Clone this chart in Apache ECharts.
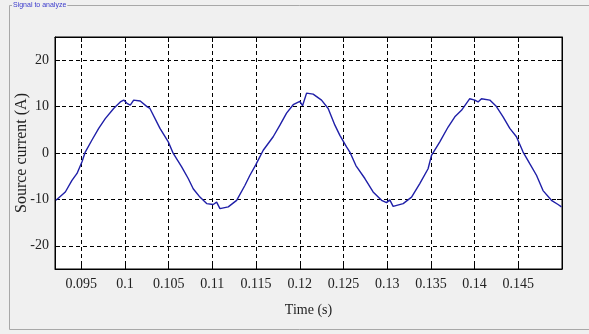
<!DOCTYPE html>
<html>
<head>
<meta charset="utf-8">
<script src="https://cdn.jsdelivr.net/npm/echarts@6/dist/echarts.min.js"></script>
<style>
html,body{margin:0;padding:0;background:#f0f0f0;}
#c{width:589px;height:334px;}
</style>
</head>
<body>
<div id="c"></div>
<script>
var timeS = [0.09211,0.09318,0.09394,0.09452,0.09509,0.09546,0.09623,0.09700,0.09775,0.09871,0.09947,0.09986,0.10023,0.10061,0.10100,0.10175,0.10252,0.10286,0.10401,0.10496,0.10553,0.10649,0.10724,0.10781,0.10858,0.10935,0.11010,0.11049,0.11087,0.11182,0.11278,0.11372,0.11430,0.11495,0.11582,0.11696,0.11773,0.11849,0.11925,0.12001,0.12032,0.12078,0.12153,0.12249,0.12325,0.12402,0.12459,0.12535,0.12573,0.12642,0.12745,0.12839,0.12936,0.12993,0.13030,0.13068,0.13183,0.13279,0.13373,0.13468,0.13507,0.13602,0.13697,0.13774,0.13850,0.13945,0.14002,0.14040,0.14079,0.14174,0.14250,0.14326,0.14403,0.14479,0.14555,0.14631,0.14708,0.14783,0.14879,0.14955,0.14994];
var currentA = [-10.2,-8.4,-5.9,-4.4,-1.9,0.2,2.8,5.3,7.4,9.6,11.0,11.4,10.7,10.3,11.4,11.2,10.0,9.6,5.3,2.4,-0.1,-3.0,-5.5,-7.7,-9.5,-10.9,-11.1,-10.6,-12.0,-11.6,-10.2,-7.0,-4.8,-2.6,0.6,3.5,6.0,8.6,10.4,11.1,10.2,12.9,12.7,11.4,9.6,6.0,3.8,1.3,0.2,-2.7,-5.5,-8.4,-10.2,-10.7,-10.1,-11.5,-10.9,-9.5,-6.6,-3.4,-0.5,2.4,5.6,7.8,9.2,11.7,11.4,11.0,11.7,11.4,10.0,7.8,5.3,3.5,0.2,-2.3,-4.8,-8.1,-10.2,-11.1,-11.6];
var xTicks = [0.095,0.1,0.105,0.11,0.115,0.12,0.125,0.13,0.135,0.14,0.145];
var yTicks = [-20,-10,0,10,20];
var xLabels = ['0.095','0.1','0.105','0.11','0.115','0.12','0.125','0.13','0.135','0.14','0.145'];

var pts = timeS.map(function(t,i){return [t,currentA[i]];});
var font = '"Liberation Serif","DejaVu Serif",serif';
var dashed = {show:true, lineStyle:{color:'#000', width:1, type:[4,3]}};

var chart = echarts.init(document.getElementById('c'), null, {renderer:'canvas'});
chart.setOption({
  backgroundColor:'#f0f0f0',
  animation:false,
  graphic:[
    {type:'rect', shape:{x:9.5,y:5.5,width:600,height:324}, style:{fill:'none', stroke:'#a8a8a8', lineWidth:1}, z:0},
    {type:'text', left:12, top:1, style:{text:'Signal to analyze', fill:'#3a3acc', font:'7px "Liberation Sans",sans-serif', backgroundColor:'#f0f0f0', padding:[1,1]}, z:1}
  ],
  grid:{left:55, top:37, right:27, bottom:65, outerBoundsMode:'none', containLabel:false, show:true, backgroundColor:'#fff', borderColor:'#000', borderWidth:1},
  xAxis:[{
    type:'value', min:0.092, max:0.15,
    name:'Time (s)', nameLocation:'middle', nameGap:34, nameMoveOverlap:false,
    nameTextStyle:{fontFamily:font, fontSize:14, color:'#222'},
    axisLine:{show:true, onZero:false, lineStyle:{color:'#000'}},
    axisTick:{show:true, inside:true, length:5, customValues:xTicks, lineStyle:{color:'#000'}},
    axisLabel:{customValues:xTicks, formatter:function(v){var i=xTicks.indexOf(v);return i>=0?xLabels[i]:String(v);}, fontFamily:font, fontSize:14, color:'#222', margin:8},
    splitLine:dashed
  },{
    type:'value', min:0.092, max:0.15, position:'top',
    axisLine:{show:true, onZero:false, lineStyle:{color:'#000'}},
    axisTick:{show:true, inside:true, length:5, customValues:xTicks, lineStyle:{color:'#000'}},
    axisLabel:{show:false}, splitLine:{show:false}
  }],
  yAxis:[{
    type:'value', min:-25, max:25,
    name:'Source current (A)', nameLocation:'middle', nameGap:25, nameMoveOverlap:false,
    nameTextStyle:{fontFamily:font, fontSize:16, color:'#222'},
    axisLine:{show:true, onZero:false, lineStyle:{color:'#000'}},
    axisTick:{show:true, inside:true, length:5, customValues:yTicks, lineStyle:{color:'#000'}},
    axisLabel:{customValues:yTicks, fontFamily:font, fontSize:14, color:'#222', margin:6},
    splitLine:dashed
  },{
    type:'value', min:-25, max:25, position:'right',
    axisLine:{show:true, onZero:false, lineStyle:{color:'#000'}},
    axisTick:{show:true, inside:true, length:5, customValues:yTicks, lineStyle:{color:'#000'}},
    axisLabel:{show:false}, splitLine:{show:false}
  }],
  series:[{
    type:'line', data:pts, xAxisIndex:0, yAxisIndex:0,
    showSymbol:false, smooth:false,
    lineStyle:{color:'#1f1fa8', width:1.4},
    z:5
  }]
});
</script>
</body>
</html>
